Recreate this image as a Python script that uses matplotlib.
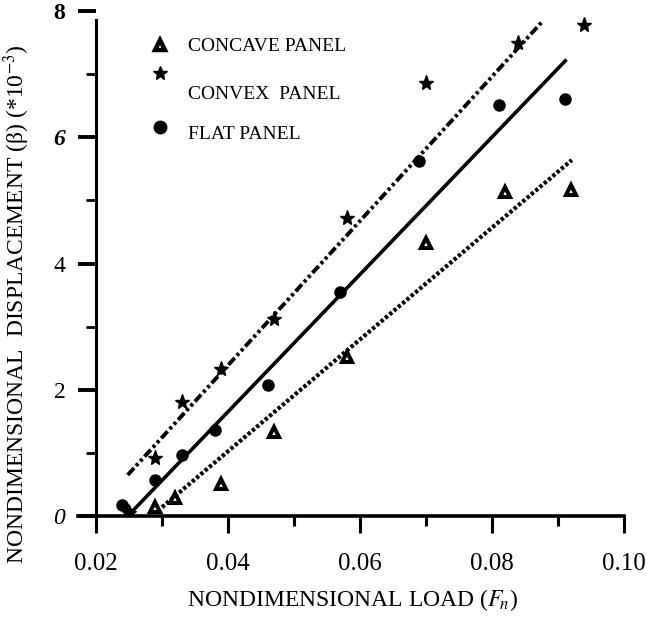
import matplotlib
matplotlib.use("Agg")
import matplotlib.pyplot as plt
from matplotlib.ticker import MultipleLocator

plt.rcParams['font.family'] = ['Liberation Serif', 'DejaVu Serif']
plt.rcParams['mathtext.fontset'] = 'stix'

# measured points (nondimensional load, displacement *1e-3)
concave_x = [0.025, 0.029, 0.032, 0.039, 0.047, 0.058, 0.070, 0.082, 0.092]
concave_y = [0.05, 0.15, 0.28, 0.50, 1.33, 2.52, 4.33, 5.13, 5.17]

convex_x = [0.025, 0.029, 0.033, 0.039, 0.047, 0.058, 0.070, 0.084, 0.094]
convex_y = [0.05, 0.92, 1.80, 2.33, 3.12, 4.72, 6.86, 7.50, 7.78]

flat_x = [0.024, 0.029, 0.033, 0.038, 0.046, 0.057, 0.069, 0.081, 0.091]
flat_y = [0.18, 0.57, 0.97, 1.37, 2.08, 3.55, 5.63, 6.51, 6.60]

# fitted lines, end points
convex_fit_x = [0.0248, 0.0876]
convex_fit_y = [0.65, 7.83]
flat_fit_x = [0.0250, 0.0911]
flat_fit_y = [0.02, 7.21]
concave_fit_x = [0.0300, 0.0921]
concave_fit_y = [0.14, 5.64]

fig = plt.figure(figsize=(6.46, 6.21), dpi=100)
ax = fig.add_axes([78 / 646, 105 / 621, 546 / 646, 505 / 621])

ax.plot(convex_fit_x, convex_fit_y, color='black', lw=2.8,
        dashes=(2.4, 0.8, 0.8, 0.8, 0.8, 0.8), dash_capstyle='butt')
ax.plot(flat_fit_x, flat_fit_y, color='black', lw=2.6)
ax.plot(concave_fit_x, concave_fit_y, color='black', lw=3,
        dashes=(0.8, 0.55), dash_capstyle='butt')

ax.plot(concave_x, concave_y, ls='none', marker='^', ms=7,
        mfc='white', mec='black', mew=2.9)
ax.plot(convex_x, convex_y, ls='none', marker='*', ms=11,
        color='black')
ax.plot(flat_x, flat_y, ls='none', marker='o', ms=8, color='black')

ax.set_xlim(0.02 - 18 / 6600, 0.10)
ax.set_ylim(0, 8)
ax.spines['left'].set_position(('data', 0.02))
ax.spines['top'].set_visible(False)
ax.spines['right'].set_visible(False)
ax.spines['left'].set_linewidth(2.2)
ax.spines['bottom'].set_linewidth(2.6)
ax.spines['left'].set_bounds(0, 7.85)

ax.xaxis.set_minor_locator(MultipleLocator(0.01))
ax.yaxis.set_minor_locator(MultipleLocator(1))
ax.set_xticks([0.02, 0.04, 0.06, 0.08, 0.10])
ax.set_xticklabels(['0.02', '0.04', '0.06', '0.08', '0.10'])
ax.set_yticks([0, 2, 4, 6, 8])
ax.set_yticklabels(['0', '2', '4', '6', '8'])

ax.tick_params(axis='x', which='major', direction='out', length=12,
               width=2.2, labelsize=18, pad=15)
ax.tick_params(axis='x', which='minor', direction='out', length=7,
               width=2.2)
ax.tick_params(axis='y', which='major', direction='out', length=13,
               width=2.8, labelsize=17, pad=9)
ax.tick_params(axis='y', which='minor', direction='out', length=7,
               width=2)
for lab in ax.get_yticklabels():
    if lab.get_text() == '8':
        lab.set_fontweight('bold')
    if lab.get_text() == '6':
        lab.set_fontweight('bold')
        lab.set_fontstyle('italic')
    if lab.get_text() == '0':
        lab.set_fontstyle('italic')

# legend drawn by hand like the original
ax.plot([0.150], [0.933], transform=ax.transAxes, marker='^', ms=7,
        mfc='white', mec='black', mew=3.2, clip_on=False)
ax.plot([0.150], [0.877], transform=ax.transAxes, marker='*', ms=10,
        color='black', clip_on=False)
ax.plot([0.150], [0.770], transform=ax.transAxes, marker='o', ms=9,
        color='black', clip_on=False)
ax.text(0.201, 0.929, 'CONCAVE PANEL', transform=ax.transAxes,
        fontsize=14, va='center')
ax.text(0.201, 0.834, 'CONVEX  PANEL', transform=ax.transAxes,
        fontsize=14, va='center')
ax.text(0.201, 0.756, 'FLAT PANEL', transform=ax.transAxes,
        fontsize=14, va='center')

fig.text(353 / 646, 1 - 600 / 621,
         r'NONDIMENSIONAL LOAD ($F_{\!n}$)', fontsize=17,
         ha='center', va='center')
fig.text(17 / 646, 1 - 304 / 621,
         r'NONDIMENSIONAL  DISPLACEMENT (β) (*10$^{-3}$)', fontsize=17,
         ha='center', va='center', rotation=90)

fig.savefig('out.png', dpi=100)
